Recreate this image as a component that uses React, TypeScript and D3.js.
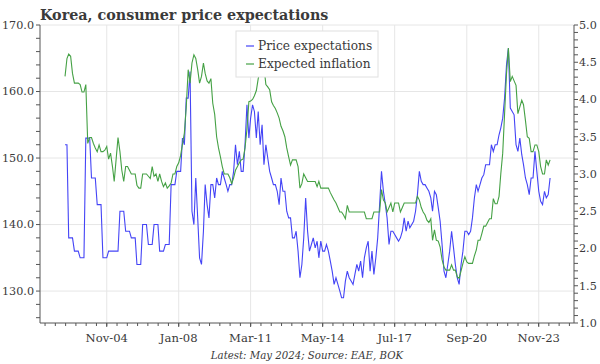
import React from "react";
import * as d3 from "d3";

const W = 600;
const H = 364;

const START_MONTH = "2003-01"; // first observation (monthly data, Jan 2003 - May 2024)

const priceExpectations: number[] = [
  152, 152, 138, 138, 138, 136, 136, 136, 135, 135,
  135, 153, 153, 153, 147, 147, 147, 143, 143, 143,
  135, 135, 135, 136, 136, 136, 136, 136, 136, 142,
  142, 142, 139, 139, 139, 138, 138, 138, 134, 134,
  134, 140, 140, 140, 137, 137, 137, 140, 140, 140,
  136, 136, 136, 137, 137, 137, 146, 146, 146, 148,
  148, 148, 153, 152, 159, 159, 163, 142, 140, 147,
  141, 135, 134, 139, 146, 143, 141, 146, 146, 144,
  147, 146, 146, 148, 147, 146, 145, 146, 146, 148,
  152, 149, 151, 148, 148, 152, 158, 153, 156, 158,
  157, 153, 157, 152, 155, 149, 152, 150, 148, 147,
  146, 146, 145, 143, 147, 145, 145, 142, 141, 141,
  138, 138, 139, 136, 132, 134, 138, 144, 139, 136,
  137, 138, 136.5, 137.5, 135, 137.5, 136, 136, 137, 136,
  134.5, 133, 131, 132, 131, 130, 129, 129, 131.5, 133,
  132, 131.5, 131, 132.5, 134, 133, 134.5, 132, 135, 136.5,
  137.5, 133, 136, 132.5, 135, 138, 143, 148, 145, 143,
  141, 137, 139, 139, 138.5, 138, 137.5, 138, 139, 141,
  139, 140.5, 139.5, 140, 140.5, 142, 144.5, 148, 146.5, 146,
  146, 145.5, 145, 144, 142, 145, 144.5, 142.5, 140.5, 137,
  133, 132, 134, 136, 139, 136.5, 134, 132, 131, 134,
  136, 139, 139, 138.5, 139, 141, 144, 146, 145, 146,
  147, 147.5, 149, 149, 149, 152, 151, 152, 152, 153.5,
  154.5, 156, 159, 164, 166.5, 157.5, 157, 156.5, 152, 151,
  153, 150.5, 149, 147, 146, 144.5, 147, 147, 151, 148,
  145, 143.5, 143, 145, 144, 144.5, 147,
];

const expectedInflation: number[] = [
  4.31, 4.55, 4.61, 4.58, 4.35, 4.22, 4.22, 4.22, 4.2, 4.1,
  4.1, 4.2, 3.41, 3.49, 3.49, 3.41, 3.35, 3.3, 3.39, 3.3,
  3.3, 3.32, 3.37, 3.2, 3.28, 3.1, 2.9, 3.2, 3.49, 3.3,
  3.05, 2.9, 3.1, 3.1, 3.05, 3.0, 3.0, 3.0, 2.85, 2.81,
  2.81, 3.0, 3.0, 3.0, 2.97, 2.94, 3.1, 2.97, 3.0, 2.9,
  3.0, 2.9, 2.83, 2.88, 2.81, 2.84, 2.88, 3.0, 3.0, 3.1,
  3.15, 3.25, 3.4, 3.55, 3.9, 4.4, 4.22, 4.49, 4.6, 4.55,
  4.4, 4.22, 4.31, 4.49, 4.35, 4.25, 4.22, 4.28, 3.95, 3.8,
  3.5, 3.35, 3.23, 3.1, 3.0, 3.0, 3.0, 2.95, 2.87, 2.95,
  3.05, 3.1, 3.15, 3.19, 3.2, 3.35, 3.6, 3.97, 3.98, 4.0,
  4.05, 4.12, 4.28, 4.4, 4.4, 4.44, 4.2, 4.17, 4.13, 3.97,
  3.92, 3.88, 3.82, 3.75, 3.64, 3.58, 3.5, 3.35, 3.23, 3.12,
  3.19, 3.19, 3.19, 3.1, 2.81, 2.87, 3.0, 2.95, 2.9, 2.9,
  2.9, 2.9, 2.9, 2.83, 2.9, 2.81, 2.81, 2.81, 2.81, 2.81,
  2.75, 2.7, 2.65, 2.61, 2.55, 2.49, 2.49, 2.45, 2.4, 2.58,
  2.49, 2.49, 2.49, 2.49, 2.49, 2.49, 2.49, 2.49, 2.49, 2.4,
  2.4, 2.4, 2.4, 2.49, 2.49, 2.49, 2.49, 2.79, 2.65, 2.61,
  2.49, 2.55, 2.61, 2.49, 2.61, 2.61, 2.61, 2.49, 2.55, 2.61,
  2.61, 2.61, 2.61, 2.61, 2.61, 2.61, 2.7, 2.65, 2.55, 2.49,
  2.45, 2.38, 2.35, 2.4, 2.11, 2.25, 2.11, 2.1, 2.02, 1.85,
  1.75, 1.71, 1.71, 1.71, 1.78, 1.71, 1.71, 1.62, 1.6, 1.7,
  1.8, 1.89, 1.82, 1.8, 1.8, 1.8, 1.9, 1.98, 2.11, 2.11,
  2.2, 2.3, 2.3, 2.35, 2.4, 2.4, 2.67, 2.6, 2.6, 2.7,
  3.0, 3.28, 3.81, 4.35, 4.69, 4.24, 4.31, 4.25, 4.19, 3.81,
  3.9, 3.99, 3.93, 3.72, 3.5, 3.48, 3.3, 3.3, 3.39, 3.39,
  3.3, 3.1, 3.0, 3.0, 3.19, 3.12, 3.19,
];

const xTickLabels = ["Nov-04", "Jan-08", "Mar-11", "May-14", "Jul-17", "Sep-20", "Nov-23"];
const leftTicks = [130, 140, 150, 160, 170];
const rightTicks = [1.0, 1.5, 2.0, 2.5, 3.0, 3.5, 4.0, 4.5, 5.0];
const seriesNames = ["Price expectations", "Expected inflation"];

const TITLE = "Korea, consumer price expectations";
const FOOTNOTE = "Latest: May 2024; Source: EAE, BOK";

const BLUE = "#4444f6";
const GREEN = "#45a145";
const TEXT = "#3a3a3a";
const AXIS = "#555";
const GRID = "#e6e6e6";
const FONT = "'DejaVu Serif', serif";

const M = { left: 40, right: 574, top: 25, bottom: 323 };

export default function App() {
  const start = d3.timeParse("%Y-%m")(START_MONTH) as Date;
  const dates = priceExpectations.map((_, i) => d3.timeMonth.offset(start, i));
  const parseTick = d3.timeParse("%b-%y");
  const tickDates = xTickLabels.map((l) => parseTick(l) as Date);

  const x = d3
    .scaleTime()
    .domain([new Date(2001, 10, 25), new Date(2025, 4, 20)])
    .range([M.left, M.right]);
  const yL = d3.scaleLinear().domain([125.2, 170]).range([M.bottom, M.top]);
  const yR = d3.scaleLinear().domain([1, 5]).range([M.bottom, M.top]);

  const lineL = d3
    .line<number>()
    .x((_, i) => x(dates[i]))
    .y((d) => yL(d));
  const lineR = d3
    .line<number>()
    .x((_, i) => x(dates[i]))
    .y((d) => yR(d));

  // minor x ticks: 7 subdivisions per major interval
  const majorX = tickDates.map((d) => x(d));
  const step = (majorX[1] - majorX[0]) / 7;
  const minorX: number[] = [];
  for (let p = majorX[0]; p >= M.left - 0.5; p -= step) minorX.push(p);
  for (let p = majorX[0] + step; p <= M.right + 0.5; p += step) minorX.push(p);

  const leftMinor = d3.range(126, 170.001, 2);
  const rightMinor = d3.range(10, 51).map((v) => v / 10);

  return (
    <svg
      width={W}
      height={H}
      style={{ position: "absolute", left: 0, top: 0, background: "#fff" }}
      fontFamily={FONT}
    >
      <rect x={0} y={0} width={W} height={H} fill="#fff" />
      {/* gridlines */}
      {leftTicks.map((t) => (
        <line key={"gh" + t} x1={M.left} x2={M.right} y1={yL(t)} y2={yL(t)} stroke={GRID} strokeWidth={1} />
      ))}
      {tickDates.map((d, i) => (
        <line key={"gv" + i} x1={x(d)} x2={x(d)} y1={M.top} y2={M.bottom} stroke={GRID} strokeWidth={1} />
      ))}

      {/* series */}
      <path d={lineL(priceExpectations) || ""} fill="none" stroke={BLUE} strokeWidth={1.1} />
      <path d={lineR(expectedInflation) || ""} fill="none" stroke={GREEN} strokeWidth={1.1} />

      {/* axes */}
      <line x1={M.left} x2={M.left} y1={M.top} y2={M.bottom} stroke={AXIS} strokeWidth={1} />
      <line x1={M.right} x2={M.right} y1={M.top} y2={M.bottom} stroke={AXIS} strokeWidth={1} />
      <line x1={M.left} x2={M.right} y1={M.bottom} y2={M.bottom} stroke={AXIS} strokeWidth={1} />

      {leftMinor.map((t) => (
        <line key={"lm" + t} x1={M.left - 4} x2={M.left} y1={yL(t)} y2={yL(t)} stroke={AXIS} strokeWidth={1} />
      ))}
      {leftTicks.map((t) => (
        <text key={"lt" + t} x={M.left - 6} y={yL(t)} dy="0.35em" textAnchor="end" fontSize={11.2} fill={TEXT}>
          {t.toFixed(1)}
        </text>
      ))}

      {rightMinor.map((t) => (
        <line key={"rm" + t} x1={M.right} x2={M.right + 4} y1={yR(t)} y2={yR(t)} stroke={AXIS} strokeWidth={1} />
      ))}
      {rightTicks.map((t) => (
        <text key={"rt" + t} x={M.right + 5} y={yR(t)} dy="0.35em" textAnchor="start" fontSize={11.2} fill={TEXT}>
          {t.toFixed(1)}
        </text>
      ))}

      {minorX.map((p, i) => (
        <line key={"xm" + i} x1={p} x2={p} y1={M.bottom} y2={M.bottom + 3} stroke={AXIS} strokeWidth={1} />
      ))}
      {tickDates.map((d, i) => (
        <g key={"xt" + i}>
          <line x1={x(d)} x2={x(d)} y1={M.bottom} y2={M.bottom + 4} stroke={AXIS} strokeWidth={1} />
          <text x={x(d)} y={342} textAnchor="middle" fontSize={11.6} fill={TEXT}>
            {xTickLabels[i]}
          </text>
        </g>
      ))}

      {/* legend */}
      <rect x={236} y={31} width={142} height={46} fill="#fff" stroke="#e0e0e0" strokeWidth={1} />
      {seriesNames.map((n, i) => (
        <g key={"lg" + i}>
          <line
            x1={246}
            x2={254}
            y1={46 + i * 18}
            y2={46 + i * 18}
            stroke={i === 0 ? BLUE : GREEN}
            strokeWidth={1.2}
          />
          <text x={258} y={46 + i * 18} dy="0.35em" fontSize={12.2} fill={TEXT}>
            {n}
          </text>
        </g>
      ))}

      {/* title & footnote */}
      <text x={40} y={20} fontSize={14.3} fontWeight="bold" fill={TEXT}>
        {TITLE}
      </text>
      <text x={(M.left + M.right) / 2} y={359} textAnchor="middle" fontSize={10.2} fontStyle="italic" fill={TEXT}>
        {FOOTNOTE}
      </text>
    </svg>
  );
}
